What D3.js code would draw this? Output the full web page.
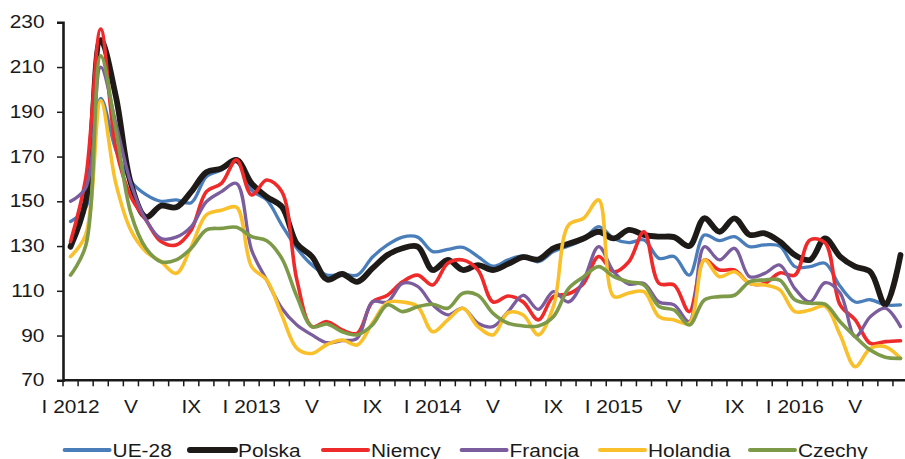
<!DOCTYPE html>
<html>
<head>
<meta charset="utf-8">
<script src="https://cdn.jsdelivr.net/npm/d3@7"></script>
<style>
  body { margin: 0; background: #fff; }
  svg text { font-family: "Liberation Sans", Arial, sans-serif; font-size: 17.7px; fill: #1a1a1a; }
</style>
</head>
<body>
<div id="chart"></div>
<script>
// months I 2012 .. VIII 2016
const categories = [
  "I 2012","II 2012","III 2012","IV 2012","V 2012","VI 2012","VII 2012","VIII 2012","IX 2012","X 2012","XI 2012","XII 2012",
  "I 2013","II 2013","III 2013","IV 2013","V 2013","VI 2013","VII 2013","VIII 2013","IX 2013","X 2013","XI 2013","XII 2013",
  "I 2014","II 2014","III 2014","IV 2014","V 2014","VI 2014","VII 2014","VIII 2014","IX 2014","X 2014","XI 2014","XII 2014",
  "I 2015","II 2015","III 2015","IV 2015","V 2015","VI 2015","VII 2015","VIII 2015","IX 2015","X 2015","XI 2015","XII 2015",
  "I 2016","II 2016","III 2016","IV 2016","V 2016","VI 2016","VII 2016","VIII 2016"
];
const tickCats = ["I 2012","V 2012","IX 2012","I 2013","V 2013","IX 2013","I 2014","V 2014","IX 2014","I 2015","V 2015","IX 2015","I 2016","V 2016"];
const tickLabels = ["I 2012","V","IX","I 2013","V","IX","I 2014","V","IX","I 2015","V","IX","I 2016","V"];
const yTicks = [70, 90, 110, 130, 150, 170, 190, 210, 230];

const ue28 = [141,147,196,173,159,153,150,150.6,149.4,161,164,167.7,155,150.6,139.4,129,121.5,117,117.5,117,125,130.5,134,134,
  127.5,128.5,129.4,125.3,121,123.8,125.6,123,127.5,130,133,138.7,133.4,131.5,132.7,124.5,125.3,117,134.9,132.4,134.2,129.7,
  130.5,130,120.8,120.8,122.3,112,105,106,103.7,103.7];
const polska = [129.7,150,222,197,158,143,148,147.3,154.3,163,164.7,168.5,158,152,147.6,131,125.3,115,117.5,114,120,126,129,129.7,
  119.3,123.8,119.3,121.5,119.3,122,125,124,129,131,133.4,136.4,133.4,137.2,135,134.2,134,130,142.4,136.4,142.4,135,
  135.7,132,126,123.8,133.4,125.3,120.8,118.5,103.7,126];
const niemcy = [132,160,227,174,152,141.6,132,130.5,137.2,154.3,158,168.5,152.8,159.5,154.3,114.8,94,96.2,92.5,91,105,108,114,117,
  112.6,122.3,123.8,119.3,105,107.7,105,97,107.4,108.6,113.3,125.3,118.5,123,136.4,113.3,112.6,100.7,123.8,119.3,119.3,113.3,
  113.3,118,117,132.7,131.5,103.7,97,86.5,87.3,87.7];
const francja = [150,156,210,185,158,141.6,133.4,134,138.7,149.8,154.3,158,128.2,114.8,102.2,94.7,90.3,86.8,87.7,88.8,105,105,113.3,112,
  103.7,99.2,102.2,95.5,94,100.7,108,101.7,109.6,105,114.8,129.7,118.5,113,113.3,105,103.7,96.2,129.7,123.8,129,116.3,
  117.8,121.5,111,105,113.6,109,89.5,98.4,102.2,94];
const holandia = [125.3,135,195,158,137,127.5,123,117.8,129.7,143.9,146,147.3,120.8,114.8,99.2,84.3,82,86,88,85.8,95.5,104.7,105,103,
  91.7,97,102.2,94,90.3,100.2,99.2,90.3,103,139.4,142.4,150.6,107.4,109,109.6,98.4,97,95.5,123.8,116.3,118.5,113.3,
  112.6,110.4,100.7,101.4,103.2,90.3,76.1,84.3,85,79.8];
const czechy = [117,130,215,182,144.6,129,123,123.8,129,137.2,137.9,138.4,134.2,132.4,124.5,107.4,94,95.2,91.7,90.3,94.7,103.7,100.7,102.9,
  104,102.2,108.9,108,99.9,95.5,94.3,94.3,98.4,111,116.3,120.8,116.3,114,112.6,103,101.4,94.7,105.9,107.4,108,114,
  114.8,114.8,106,104.4,104,96.2,89.5,83.5,80.3,79.8];

const seriesNames = ["UE-28", "Polska", "Niemcy", "Francja", "Holandia", "Czechy"];
const seriesValues = [ue28, polska, niemcy, francja, holandia, czechy];
const colors = ["#4a7ebb", "#1e1a18", "#ee2a2a", "#7b5d9e", "#f9c02b", "#7d9a48"];
const widths = [3.3, 5.8, 3.6, 3.3, 3.6, 3.6];

const W = 905, H = 459;
const stretch = 1.18; // text in the picture is a bit wider than plain Arial
const plotLeft = 63, plotTop = 22.3, plotBottom = 380.3;
const step = 15.09;

const svg = d3.select("#chart").append("svg")
  .attr("width", W)
  .attr("height", H);

const x = d3.scaleBand()
  .domain(categories)
  .range([plotLeft, plotLeft + step * categories.length])
  .paddingInner(0).paddingOuter(0);

const y = d3.scaleLinear()
  .domain([70, 230])
  .range([plotBottom, plotTop]);

// y axis
const yAxis = d3.axisLeft(y).tickValues(yTicks).tickSize(6).tickPadding(9.7);
const gy = svg.append("g")
  .attr("transform", "translate(" + plotLeft + ",0)")
  .call(yAxis);
gy.select(".domain").attr("stroke", "#1a1a1a").attr("stroke-width", 2.6);
gy.selectAll(".tick line").attr("stroke", "#1a1a1a").attr("stroke-width", 1.5);
gy.selectAll(".tick text")
  .attr("fill", "#1a1a1a")
  .style("font-size", "17.7px")
  .attr("transform", "scale(" + stretch + ",1)");

// x axis: line, ticks at month boundaries, labels every 4 months
svg.append("line")
  .attr("x1", plotLeft).attr("x2", W)
  .attr("y1", plotBottom).attr("y2", plotBottom)
  .attr("stroke", "#1a1a1a").attr("stroke-width", 2.6);

const bounds = categories.map(c => x(c)).concat([x(categories[categories.length - 1]) + x.bandwidth()]);
svg.append("g").selectAll("line")
  .data(bounds)
  .enter().append("line")
  .attr("x1", d => d).attr("x2", d => d)
  .attr("y1", plotBottom).attr("y2", plotBottom + 6)
  .attr("stroke", "#1a1a1a").attr("stroke-width", 1.5);

svg.append("g").selectAll("text")
  .data(tickCats)
  .enter().append("text")
  .attr("transform", d => "translate(" + (x(d) + x.bandwidth() / 2) + ",413) scale(" + stretch + ",1)")
  .attr("text-anchor", "middle")
  .text((d, i) => tickLabels[i]);

// lines
const line = d3.line()
  .x((d, i) => x(categories[i]) + x.bandwidth() / 2)
  .y(d => y(d))
  .curve(d3.curveCatmullRom.alpha(0.5));

svg.append("g").selectAll("path")
  .data(seriesValues)
  .enter().append("path")
  .attr("d", d => line(d))
  .attr("fill", "none")
  .attr("stroke", (d, i) => colors[i])
  .attr("stroke-width", (d, i) => widths[i])
  .attr("stroke-linejoin", "round")
  .attr("stroke-linecap", "round");

// legend
const legendX = [64.6, 190, 323, 461.6, 600, 750];
const legend = svg.append("g").selectAll("g")
  .data(seriesNames)
  .enter().append("g")
  .attr("transform", (d, i) => "translate(" + legendX[i] + ",450)");

legend.append("line")
  .attr("x1", 0).attr("x2", 45)
  .attr("y1", 0).attr("y2", 0)
  .attr("stroke", (d, i) => colors[i])
  .attr("stroke-width", (d, i) => i == 1 ? 6 : 4)
  .attr("stroke-linecap", "round");

legend.append("text")
  .attr("transform", "translate(48,6.5) scale(" + stretch + ",1)")
  .text(d => d);
</script>
</body>
</html>
